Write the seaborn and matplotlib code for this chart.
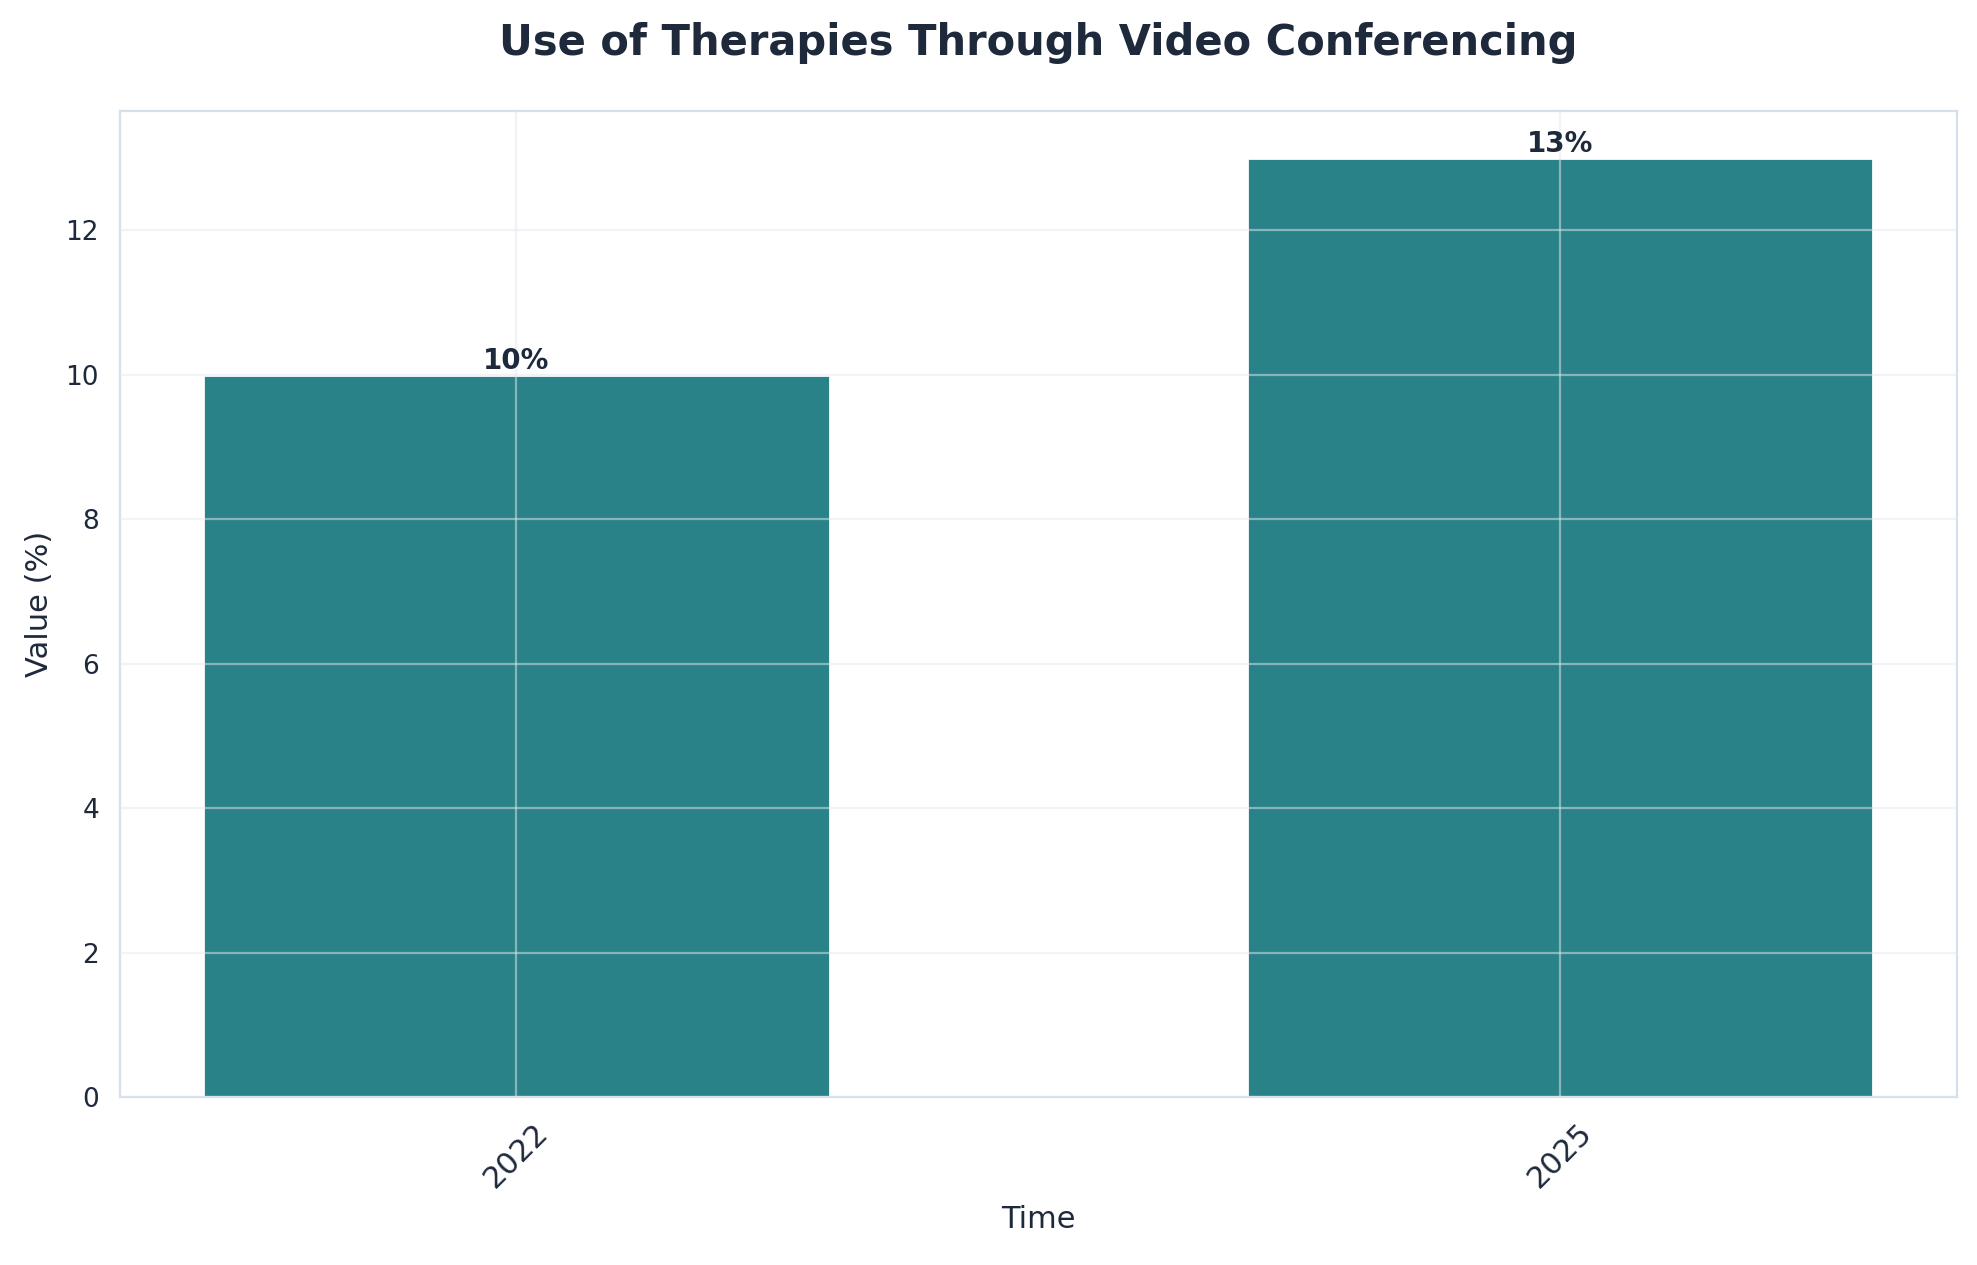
import matplotlib
matplotlib.use("Agg")
import matplotlib.pyplot as plt
import seaborn as sns
import pandas as pd

years = ["2022", "2025"]
values = [10, 13]

df = pd.DataFrame({"Time": years, "Value": values})

sns.set_style("white")
plt.rcParams['font.family'] = ['DejaVu Sans']

fig, ax = plt.subplots(figsize=(9.885, 6.325), dpi=200)
sns.barplot(data=df, x="Time", y="Value", color="#2a8289", saturation=1,
            width=0.6, ax=ax)
ax.set_xlim(-0.38, 1.38)
ax.set_ylim(0, max(values) * 1.05)

for i, v in enumerate(values):
    ax.text(i, v, f"{v}%", ha="center", va="bottom", fontsize=10,
            fontweight="bold", color="#1e293b")

ax.grid(True, color="#e2e8f0", alpha=0.5, linewidth=0.8)
ax.set_axisbelow(False)
for s in ax.spines.values():
    s.set_color("#d5e0ec")
ax.tick_params(axis="x", labelsize=11, rotation=45, colors="#1e293b", length=4)
ax.tick_params(axis="y", labelsize=9.5, colors="#1e293b", length=4)
for lbl in ax.get_xticklabels():
    lbl.set_ha("center")
ax.set_xlabel("Time", fontsize=11, color="#1e293b")
ax.set_ylabel("Value (%)", fontsize=11, color="#1e293b")
ax.set_title("Use of Therapies Through Video Conferencing", fontsize=15,
             fontweight="bold", color="#1e293b", pad=20)

W, H = 1568, 1003
ax.set_position([95 / W, 1 - 870 / H, (1552 - 95) / W, (870 - 88) / H])
fig.savefig("out.png", dpi=200)
